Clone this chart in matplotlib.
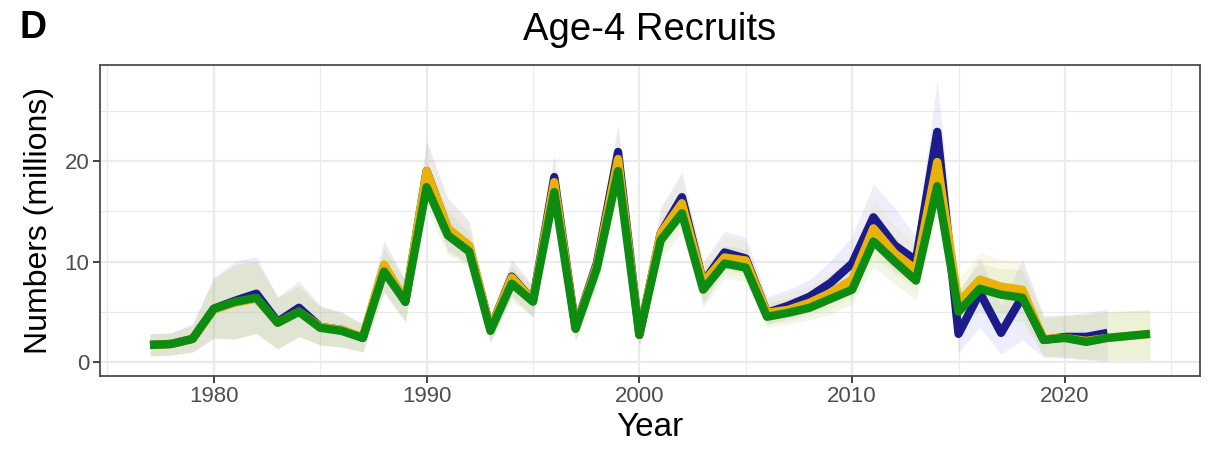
import matplotlib
matplotlib.use("Agg")
import matplotlib.pyplot as plt
import numpy as np

years = list(range(1977, 2025))
years_blue = list(range(1977, 2023))

blue_mean = [1.7, 1.8, 2.3, 5.3, 6.1, 6.8, 4.0, 5.4, 3.5, 3.2, 2.4, 9.5, 6.0,
             19.0, 13.2, 11.5, 3.3, 8.5, 6.1, 18.4, 3.4, 9.8, 20.9, 2.7,
             12.8, 16.4, 7.9, 10.9, 10.3, 4.9, 5.6, 6.5, 7.9, 9.8, 14.4,
             11.6, 10.1, 22.9, 2.8, 6.9, 2.9, 6.5, 2.2, 2.5, 2.5, 2.9]
blue_lo = [0.6, 0.7, 1.0, 2.4, 2.3, 2.9, 1.3, 2.6, 1.7, 1.5, 1.0, 7.0, 4.0,
           16.5, 11.0, 9.8, 2.0, 6.5, 4.5, 16.0, 2.2, 7.8, 18.2, 1.5,
           11.3, 14.3, 5.8, 9.3, 8.8, 3.8, 4.3, 5.0, 6.0, 7.5, 11.5,
           9.0, 7.8, 18.0, 0.9, 3.5, 0.8, 2.2, 0.5, 0.4, 0.2, 0.0]
blue_hi = [2.8, 2.9, 3.8, 8.5, 10.0, 10.5, 6.5, 8.1, 5.6, 5.0, 3.8, 12.0, 8.2,
           22.0, 16.3, 14.0, 4.6, 10.2, 7.6, 20.6, 5.3, 11.5, 23.7, 4.2,
           15.4, 18.9, 10.0, 13.0, 12.4, 6.5, 7.2, 8.2, 10.1, 12.5, 17.7,
           15.3, 12.5, 28.1, 6.9, 10.4, 5.6, 10.3, 4.6, 4.7, 4.9, 5.3]

yellow_mean = [1.7, 1.8, 2.3, 5.2, 5.9, 6.3, 3.9, 5.0, 3.5, 3.2, 2.5, 9.7, 6.1,
               19.0, 13.3, 11.6, 3.3, 8.4, 6.1, 17.9, 3.4, 9.6, 20.2, 2.7,
               12.8, 15.8, 7.9, 10.4, 10.1, 4.9, 5.2, 5.9, 6.9, 8.2, 13.3,
               10.8, 9.2, 19.9, 5.9, 8.2, 7.5, 7.2, 2.3, 2.4, 2.1, 2.4, 2.6, 2.8]
yellow_lo = [0.6, 0.7, 1.0, 2.3, 2.3, 2.8, 1.3, 2.5, 1.7, 1.5, 1.0, 7.2, 4.0,
             16.5, 11.2, 9.8, 2.1, 6.6, 4.5, 15.8, 2.2, 7.7, 17.6, 1.5,
             10.9, 13.8, 5.9, 8.8, 8.5, 3.7, 4.1, 4.6, 5.3, 6.5, 10.6,
             8.6, 7.2, 16.5, 3.9, 5.7, 5.0, 4.8, 0.6, 0.5, 0.3, 0.2, 0.2, 0.2]
yellow_hi = [2.8, 2.9, 3.7, 8.3, 9.7, 10.0, 6.4, 7.7, 5.5, 4.9, 3.8, 12.0, 8.2,
             21.8, 16.2, 13.9, 4.6, 10.1, 7.6, 20.3, 5.2, 11.4, 23.3, 4.2,
             15.2, 18.6, 9.9, 12.5, 12.0, 6.4, 6.8, 7.6, 8.9, 10.4, 16.3,
             13.6, 11.6, 23.5, 8.3, 10.9, 10.2, 10.0, 4.5, 4.6, 4.8, 5.0, 5.1, 5.2]

green_mean = [1.7, 1.8, 2.3, 5.3, 6.0, 6.4, 3.9, 5.0, 3.4, 3.1, 2.4, 9.0, 6.0,
              17.4, 12.6, 11.0, 3.1, 7.8, 6.0, 16.9, 3.3, 9.3, 19.0, 2.7,
              12.1, 14.8, 7.2, 9.8, 9.4, 4.5, 4.9, 5.4, 6.3, 7.2, 12.0,
              10.0, 8.1, 17.5, 5.0, 7.3, 6.7, 6.4, 2.2, 2.4, 2.0, 2.4, 2.6, 2.8]
green_lo = [0.6, 0.7, 1.0, 2.4, 2.3, 2.8, 1.3, 2.5, 1.7, 1.5, 1.0, 6.8, 4.0,
            15.3, 10.7, 9.4, 2.0, 6.1, 4.5, 14.8, 2.1, 7.4, 16.6, 1.5,
            10.3, 12.9, 5.4, 8.3, 8.0, 3.4, 3.8, 4.2, 4.8, 5.8, 9.5,
            7.8, 6.2, 15.0, 3.4, 5.0, 4.3, 4.0, 0.6, 0.5, 0.3, 0.2, 0.2, 0.2]
green_hi = [2.8, 2.9, 3.7, 8.3, 9.7, 10.0, 6.4, 7.6, 5.5, 4.9, 3.7, 11.3, 8.1,
            19.8, 15.0, 12.9, 4.3, 9.5, 7.5, 19.0, 4.9, 11.0, 21.5, 4.1,
            14.2, 17.0, 9.2, 11.6, 11.2, 5.9, 6.3, 6.9, 8.1, 9.1, 14.8,
            12.5, 10.2, 20.8, 7.2, 9.8, 9.3, 9.2, 4.4, 4.6, 4.7, 5.0, 5.1, 5.2]

title = "Age-4 Recruits"
panel_label = "D"
xlabel = "Year"
ylabel = "Numbers (millions)"
xticks = [1980, 1990, 2000, 2010, 2020]
yticks = [0, 10, 20]

plt.rcParams['font.family'] = ['Liberation Sans', 'DejaVu Sans']

fig = plt.figure(figsize=(12.08, 4.53), dpi=100)
ax = fig.add_axes([100 / 1208, 77 / 453, 1100 / 1208, 311 / 453])

c_blue, c_yel, c_grn = "#1b1b8a", "#e8b20a", "#0d8c12"
ax.fill_between(years_blue, blue_lo, blue_hi, color="#8a8ae8", alpha=0.14, lw=0, zorder=2)
ax.fill_between(years, yellow_lo, yellow_hi, color="#e8c850", alpha=0.12, lw=0, zorder=2)
ax.fill_between(years, green_lo, green_hi, color="#8cc850", alpha=0.13, lw=0, zorder=2)

lw = 6.0
ax.plot(years_blue, blue_mean, color=c_blue, lw=lw, solid_joinstyle='round', solid_capstyle='butt', zorder=3)
ax.plot(years, yellow_mean, color=c_yel, lw=lw, solid_joinstyle='round', solid_capstyle='butt', zorder=4)
ax.plot(years, green_mean, color=c_grn, lw=lw, solid_joinstyle='round', solid_capstyle='butt', zorder=5)

ax.set_xlim(1974.65, 2026.35)
ax.set_ylim(-1.39, 29.55)
ax.set_xticks(xticks)
ax.set_yticks(yticks)
ax.set_xticks([1975, 1985, 1995, 2005, 2015, 2025], minor=True)
ax.set_yticks([5, 15, 25], minor=True)
ax.grid(which='major', color='#ebebeb', lw=1.6, zorder=0)
ax.grid(which='minor', color='#ebebeb', lw=0.9, zorder=0)
ax.set_axisbelow(True)
for s in ax.spines.values():
    s.set_color('#4d4d4d')
    s.set_linewidth(1.3)
ax.tick_params(which='major', length=5, width=1.3, color='#333333',
               labelsize=16, labelcolor='#4d4d4d', pad=2.5)
ax.tick_params(which='minor', length=0)

ax.set_xlabel(xlabel, fontsize=24, labelpad=3)
ax.set_ylabel(ylabel, fontsize=23, labelpad=8)
fig.text(650 / 1208, 1 - 30 / 453, title, fontsize=27.5, ha='center', va='center')
fig.text(19 / 1208, 1 - 28 / 453, panel_label, fontsize=27, fontweight='bold', ha='left', va='center')

fig.savefig("out.png", dpi=100)
